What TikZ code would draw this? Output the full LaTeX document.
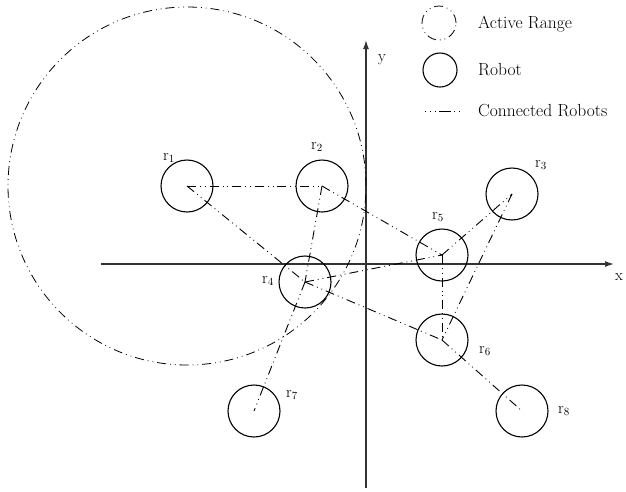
\documentclass[tikz,border=0pt]{standalone}
\usetikzlibrary{arrows.meta}
\begin{document}
\begin{tikzpicture}[x=1pt,y=-1pt,
  robot/.style={circle,draw,line width=1.1pt,minimum size=52pt,inner sep=0pt},
  rangec/.style={circle,draw,line width=0.8pt,inner sep=0pt,dash pattern=on 9pt off 4pt on 0.8pt off 4pt on 0.8pt off 4pt},
  link/.style={line width=0.9pt,dash pattern=on 9pt off 4pt on 0.8pt off 4pt on 0.8pt off 4pt},
  axis/.style={line width=1.3pt,draw=black!80,-{Latex[length=9pt,width=6pt]}},
  lbl/.style={inner sep=0pt,font=\fontsize{16}{18}\selectfont},
  legtxt/.style={inner sep=0pt,anchor=west,font=\fontsize{17.5}{20}\selectfont}]
\useasboundingbox (0,0) rectangle (626,491);
% axes
\coordinate (xs) at (101,264);
\coordinate (xe) at (614,264);
\coordinate (ys) at (366,488);
\coordinate (ye) at (366,40);
\draw[axis] (xs) -- (xe);
\draw[axis] (ys) -- (ye);
\node[lbl] (xl) at (619,277) {x};
\node[lbl] (yl) at (382,60) {y};
% robots
\node[robot] (r1) at (187,186) {};
\node[robot] (r2) at (322,186) {};
\node[robot] (r3) at (512,194) {};
\node[robot] (r4) at (305,282) {};
\node[robot] (r5) at (442,255) {};
\node[robot] (r6) at (442,340) {};
\node[robot] (r7) at (254,411) {};
\node[robot] (r8) at (522,411) {};
% active range
\node[rangec,minimum size=358pt] (ar) at (187,186) {};
% labels
\node[lbl] (l1) at (169,158) {r$_1$};
\node[lbl] (l2) at (317,147) {r$_2$};
\node[lbl] (l3) at (541,165) {r$_3$};
\node[lbl] (l4) at (268,281) {r$_4$};
\node[lbl] (l5) at (438,217) {r$_5$};
\node[lbl] (l6) at (485,351) {r$_6$};
\node[lbl] (l7) at (292,395) {r$_7$};
\node[lbl] (l8) at (564,411) {r$_8$};
% links
\draw[link] (r1.center) -- (r2.center);
\draw[link] (r1.center) -- (r4.center);
\draw[link] (r2.center) -- (r4.center);
\draw[link] (r2.center) -- (r5.center);
\draw[link] (r4.center) -- (r5.center);
\draw[link] (r5.center) -- (r3.center);
\draw[link] (r4.center) -- (r6.center);
\draw[link] (r5.center) -- (r6.center);
\draw[link] (r3.center) -- (r6.center);
\draw[link] (r6.center) -- (r8.center);
\draw[link] (r4.center) -- (r7.center);
% legend
\node[rangec,minimum size=34pt] (la) at (439,23) {};
\node[legtxt] (ta) at (478,24) {Active Range};
\node[robot,minimum size=34pt] (lr) at (440,70) {};
\node[legtxt] (tr) at (478,70) {Robot};
\coordinate (lc1) at (425,111);
\coordinate (lc2) at (463,111);
\draw[line width=0.9pt,dash pattern=on 0.8pt off 4pt on 0.8pt off 4pt on 0.8pt off 4pt on 12pt off 3pt] (lc1) -- (lc2);
\node[legtxt] (tc) at (478,111) {Connected Robots};
\end{tikzpicture}
\end{document}
